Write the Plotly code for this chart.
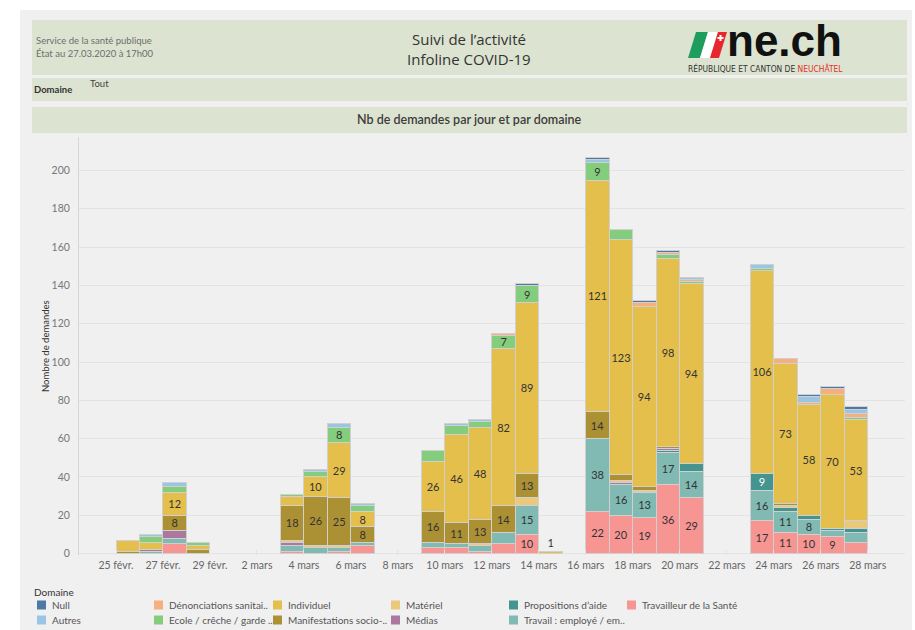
import plotly.graph_objects as go
import pandas as pd

# ---------------- data ----------------
dates = ["2020-02-25", "2020-02-26", "2020-02-27", "2020-02-28",
         "2020-03-03", "2020-03-04", "2020-03-05", "2020-03-06",
         "2020-03-09", "2020-03-10", "2020-03-11", "2020-03-12", "2020-03-13", "2020-03-14",
         "2020-03-16", "2020-03-17", "2020-03-18", "2020-03-19", "2020-03-20",
         "2020-03-23", "2020-03-24", "2020-03-25", "2020-03-26", "2020-03-27"]

travailleur = [0, 0, 5, 0, 1, 0, 1, 4, 3, 3, 1, 5, 10, 0, 22, 20, 19, 36, 29, 17, 11, 10, 9, 6]
travail = [0, 1, 3, 0, 3, 3, 2, 2, 3, 2, 3, 6, 15, 0, 38, 16, 13, 17, 14, 16, 11, 8, 3, 5]
propositions = [0, 0, 0, 0, 0, 0, 0, 0, 0, 0, 0, 0, 0, 0, 0, 0, 0, 1, 4, 9, 2, 2, 1, 2]
medias = [0, 1, 4, 0, 2, 0, 0, 0, 0, 0, 0, 0, 0, 0, 0, 1, 0, 1, 0, 0, 0, 0, 0, 0]
materiel = [0, 0, 0, 0, 1, 1, 1, 0, 0, 0, 1, 0, 4, 0, 0, 1, 1, 0, 0, 0, 1, 0, 0, 4]
manifestations = [1, 0, 8, 2, 18, 26, 25, 8, 16, 11, 13, 14, 13, 0, 14, 3, 2, 1, 0, 0, 1, 0, 0, 0]
individuel = [6, 4, 12, 2, 5, 10, 29, 8, 26, 46, 48, 82, 89, 1, 121, 123, 94, 98, 94, 106, 73, 58, 70, 53]
ecole = [0, 3, 3, 2, 1, 3, 8, 3, 6, 5, 3, 7, 9, 0, 9, 5, 0, 2, 1, 1, 0, 0, 0, 1]
denonciations = [0, 0, 0, 0, 0, 0, 0, 0, 0, 0, 0, 1, 0, 0, 0, 0, 2, 1, 1, 0, 3, 1, 3, 2]
autres = [0, 1, 2, 0, 0, 1, 2, 1, 0, 1, 1, 0, 0, 0, 2, 0, 0, 0, 1, 2, 0, 3, 0, 2]
null = [0, 0, 0, 0, 0, 0, 0, 0, 0, 0, 0, 0, 1, 0, 1, 0, 1, 1, 0, 0, 0, 1, 1, 2]

tick_dates = ["2020-02-25", "2020-02-27", "2020-02-29", "2020-03-02", "2020-03-04",
              "2020-03-06", "2020-03-08", "2020-03-10", "2020-03-12", "2020-03-14",
              "2020-03-16", "2020-03-18", "2020-03-20", "2020-03-22", "2020-03-24",
              "2020-03-26", "2020-03-28"]
tick_labels = ["25 févr.", "27 févr.", "29 févr.", "2 mars", "4 mars", "6 mars", "8 mars",
               "10 mars", "12 mars", "14 mars", "16 mars", "18 mars", "20 mars", "22 mars",
               "24 mars", "26 mars", "28 mars"]
y_ticks = [0, 20, 40, 60, 80, 100, 120, 140, 160, 180, 200]

# legend entries, in the reference's reading order (column by column)
legend_names = ["Null", "Autres", "Dénonciations sanitai..", "Ecole / crêche / garde ..",
                "Individuel", "Manifestations socio-..", "Matériel", "Médias",
                "Propositions d’aide", "Travail : employé / em..", "Travailleur de la Santé"]

# ---------------- geometry helpers (pixel -> paper) ----------------
W, H = 915, 630
ML, MR, MT, MB = 79, 10, 137, 75
PW, PH = W - ML - MR, H - MT - MB


def X(px):
    return (px - ML) / PW


def Y(py):
    return (H - MB - py) / PH


FONT = "Lato, 'Open Sans', sans-serif"

colors = {
    "Null": "#4E79A7",
    "Autres": "#98C6E4",
    "Dénonciations sanitai..": "#F6B07E",
    "Ecole / crêche / garde ..": "#84CD7C",
    "Individuel": "#E4BF4C",
    "Manifestations socio-..": "#AC9034",
    "Matériel": "#EBC97C",
    "Médias": "#AC78A0",
    "Propositions d’aide": "#44948F",
    "Travail : employé / em..": "#80BAB3",
    "Travailleur de la Santé": "#F79593",
}
label_colors = {"Propositions d’aide": "#FFFFFF", "Null": "#FFFFFF"}

# series listed bottom -> top of the stack
series = [
    ("Travailleur de la Santé", travailleur),
    ("Travail : employé / em..", travail),
    ("Propositions d’aide", propositions),
    ("Médias", medias),
    ("Matériel", materiel),
    ("Manifestations socio-..", manifestations),
    ("Individuel", individuel),
    ("Ecole / crêche / garde ..", ecole),
    ("Dénonciations sanitai..", denonciations),
    ("Autres", autres),
    ("Null", null),
]

x_centers = [pd.Timestamp(d) + pd.Timedelta(hours=12) for d in dates]
DAY_MS = 86400000

fig = go.Figure()
for name, vals in series:
    y = [v if v > 0 else None for v in vals]
    txt = [str(v) if (v >= 7) else "" for v in vals]
    pos = ["inside"] * len(vals)
    # a bar made of one tiny segment gets its label above it
    for i, v in enumerate(vals):
        if 0 < v < 7 and sum(s[1][i] for s in series) == v:
            txt[i] = str(v)
            pos[i] = "outside"
    fig.add_trace(go.Bar(
        x=x_centers, y=y, name=name, showlegend=False,
        width=[DAY_MS] * len(vals),
        marker=dict(color=colors[name], line=dict(color="#D0D0D0", width=1)),
        text=txt, textposition=pos, textangle=0, constraintext="none",
        insidetextanchor="middle",
        insidetextfont=dict(family=FONT, size=11, color=label_colors.get(name, "#333333")),
        outsidetextfont=dict(family=FONT, size=11, color="#333333"),
        cliponaxis=False,
        hovertemplate="%{x|%d.%m}: %{y}<extra>" + name + "</extra>",
    ))

# ---------------- axes ----------------
px_per_day = 23.49
x_start = pd.Timestamp("2020-02-25") - pd.Timedelta(days=(116 - ML) / px_per_day)
x_end = x_start + pd.Timedelta(days=PW / px_per_day)
y0_px, px_per_unit = 553.5, 1.915
y_lo = -(H - MB - y0_px) / px_per_unit
y_hi = (y0_px - MT) / px_per_unit

fig.update_layout(
    width=W, height=H,
    margin=dict(l=ML, r=MR, t=MT, b=MB, pad=0, autoexpand=False),
    paper_bgcolor="#FFFFFF",
    plot_bgcolor="rgba(0,0,0,0)",
    barmode="stack",
    showlegend=False,
    font=dict(family=FONT, color="#555555"),
    xaxis=dict(type="date", range=[x_start, x_end], tickvals=[pd.Timestamp(d) for d in tick_dates],
               ticktext=tick_labels, showgrid=False, zeroline=False, showline=False,
               ticks="inside", ticklen=5, tickcolor="#E2E2E2",
               tickfont=dict(family=FONT, size=10.5, color="#666666"), ticklabelstandoff=2,
               automargin=False, fixedrange=True),
    yaxis=dict(range=[y_lo, y_hi], tickvals=y_ticks, showgrid=True, gridcolor="#E3E3E3",
               gridwidth=1, zeroline=False, showline=True, linecolor="#D6D6D6", linewidth=1,
               ticks="", tickfont=dict(family=FONT, size=10.5, color="#777777"),
               ticklabelstandoff=6, automargin=False, fixedrange=True),
)

# ---------------- background panels ----------------
shapes = []
shapes.append(dict(type="rect", xref="paper", yref="paper", x0=X(20), x1=X(912), y0=Y(10), y1=Y(630),
                   fillcolor="#F0F0F0", line=dict(width=0), layer="below"))
for (top, bot) in [(20, 75), (78, 101), (107, 133)]:
    shapes.append(dict(type="rect", xref="paper", yref="paper", x0=X(32), x1=X(907), y0=Y(top), y1=Y(bot),
                       fillcolor="#DCE3D0", line=dict(width=0), layer="below"))


def poly(pts, color, line=None):
    path = "M " + " L ".join(f"{X(a):.5f},{Y(b):.5f}" for a, b in pts) + " Z"
    return dict(type="path", xref="paper", yref="paper", path=path, fillcolor=color,
                line=line or dict(width=0), layer="above")


# flag of the logo
shapes.append(poly([(688, 58), (700, 58), (708, 32), (696, 32)], "#1E9E5E"))
shapes.append(poly([(700, 58), (710, 58), (718, 32), (708, 32)], "#FFFFFF"))
shapes.append(poly([(710, 58), (719, 58), (727, 32), (718, 32)], "#E8262E"))
shapes.append(poly([(717.5, 37), (723.5, 37), (723.5, 39), (717.5, 39)], "#FFFFFF"))
shapes.append(poly([(719.5, 35), (721.5, 35), (721.5, 41), (719.5, 41)], "#FFFFFF"))

# ---------------- texts ----------------
ann = []


def text(t, px, py, size, color="#555555", xanchor="left", yanchor="middle", family=FONT, angle=0,
         weight="normal"):
    ann.append(dict(text=t, x=X(px), y=Y(py), xref="paper", yref="paper", showarrow=False,
                    xanchor=xanchor, yanchor=yanchor, textangle=angle, borderpad=0,
                    font=dict(family=family, size=size, color=color, weight=weight)))


text("Service de la santé publique", 35, 41, 9.5, "#6E6E6E")
text("État au 27.03.2020 à 17h00", 35, 54, 9.5, "#6E6E6E")
text("Suivi de l’activité", 469, 50, 15, "#333333", xanchor="center", yanchor="bottom",
     family="'Open Sans', Lato, sans-serif")
text("Infoline COVID-19", 469, 48, 15, "#333333", xanchor="center", yanchor="top",
     family="'Open Sans', Lato, sans-serif")
text("<b>ne.ch</b>", 784, 40, 44, "#111111", xanchor="center", family="'Liberation Sans', Arial, sans-serif")
text("RÉPUBLIQUE ET CANTON DE <span style='color:#E4312B'>NEUCHÂTEL</span>", 687, 68.5, 8.4, "#333333",
     xanchor="left", family="'Liberation Sans Narrow', 'DejaVu Sans Condensed', 'Roboto Condensed', 'Liberation Sans', sans-serif")
text("<b>Domaine</b>", 33, 89, 9.5, "#333333")
text("Tout", 89, 84, 9.5, "#444444")
text("Nb de demandes par jour et par domaine", 469, 120, 12.5, "#3C3C3C", xanchor="center",
     weight=600)
text("Nombre de demandes", 45, 346, 9.5, "#333333", xanchor="center", angle=-90)
text("Domaine", 33, 592, 10, "#333333")

# ---------------- legend grid (2 rows, column by column) ----------------
col_text_x = [51, 168, 287, 405, 523, 641]
row_y = [605, 620]
for k, name in enumerate(legend_names):
    c, r = divmod(k, 2)
    tx, ty = col_text_x[c], row_y[r]
    shapes.append(poly([(tx - 14, ty - 4.5), (tx - 5, ty - 4.5), (tx - 5, ty + 4.5), (tx - 14, ty + 4.5)],
                       colors[name], line=dict(width=0)))
    text(name, tx, ty, 10, "#555555")

fig.update_layout(shapes=shapes, annotations=ann)

fig.write_html("out.html")
